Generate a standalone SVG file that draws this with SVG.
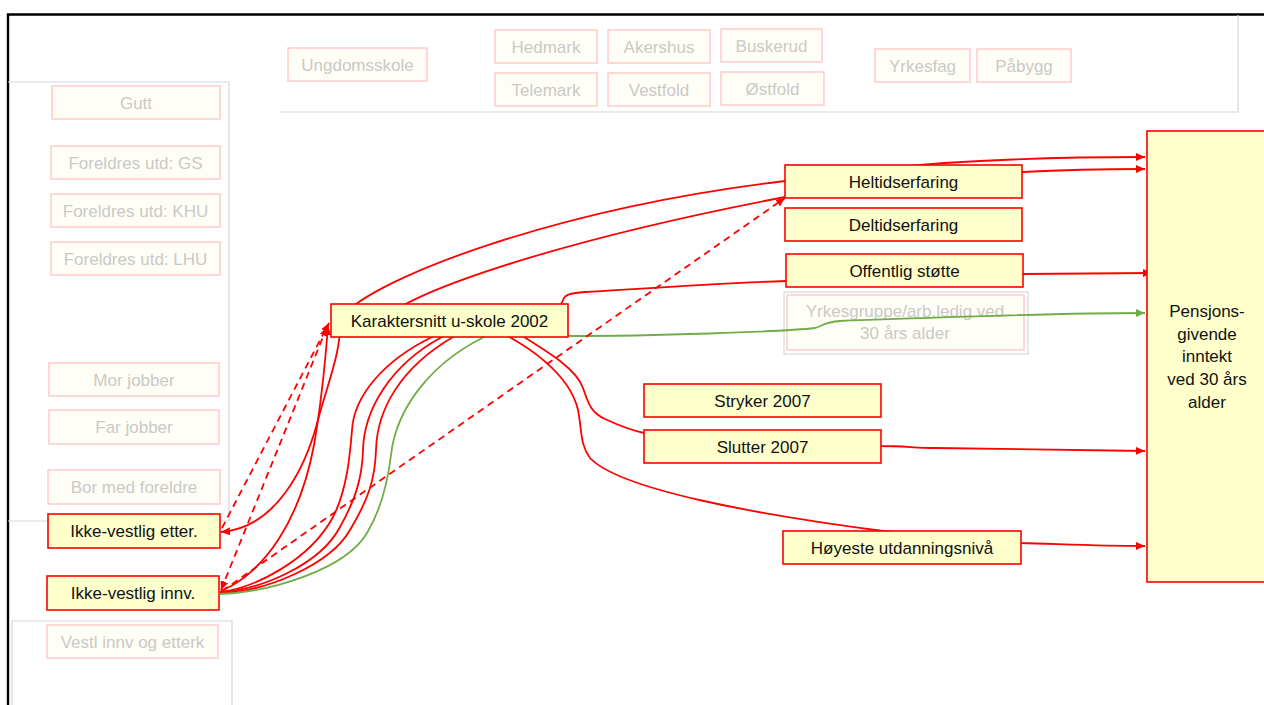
<svg xmlns="http://www.w3.org/2000/svg" width="1264" height="705" viewBox="0 0 1264 705">
<defs>
<style>
text{font-family:"Liberation Sans",Arial,sans-serif;font-size:17px;text-anchor:middle}
.panel{fill:none;stroke:#d6d6d6;stroke-width:1.2}
.fd rect{fill:#fffef6;stroke:#ffcaca;stroke-width:1.5}
.fd text{fill:#c9c9c9}
.nd rect{fill:#ffffcc;stroke:#f00;stroke-width:1.6}
.nd text{fill:#111}
.c{fill:none;stroke:#f00;stroke-width:1.8}
.d{stroke-dasharray:7 5}
.g{fill:none;stroke:#70ad47;stroke-width:1.8}
</style>
<marker id="ar" markerUnits="userSpaceOnUse" markerWidth="10" markerHeight="8" refX="9" refY="4" orient="auto-start-reverse"><path d="M0,0 L9,4 L0,8 z" fill="#f00"/></marker>
<marker id="ag" markerUnits="userSpaceOnUse" markerWidth="10" markerHeight="8" refX="9" refY="4" orient="auto"><path d="M0,0 L9,4 L0,8 z" fill="#70ad47"/></marker>
</defs>
<rect width="1264" height="705" fill="#fff"/>
<!-- frame and panels -->
<path d="M8,705 V14.5 H1264" fill="none" stroke="#000" stroke-width="2.4"/>
<path class="panel" d="M280,112 H1238 V15"/>
<path class="panel" d="M8,82 H229 V521 H8"/>
<path class="panel" d="M12,705 V621 H232 V705"/>

<!-- faded nodes -->
<g class="fd">
<g id="ungdomsskole"><rect x="288" y="48" width="139" height="33"/><text x="357.5" y="70.5">Ungdomsskole</text></g>
<g id="hedmark"><rect x="495" y="30" width="102" height="33"/><text x="546" y="52.5">Hedmark</text></g>
<g id="akershus"><rect x="608" y="30" width="102" height="33"/><text x="659" y="52.5">Akershus</text></g>
<g id="buskerud"><rect x="721" y="29" width="101" height="33"/><text x="771.5" y="51.5">Buskerud</text></g>
<g id="telemark"><rect x="495" y="73" width="102" height="33"/><text x="546" y="95.5">Telemark</text></g>
<g id="vestfold"><rect x="608" y="73" width="102" height="33"/><text x="659" y="95.5">Vestfold</text></g>
<g id="ostfold"><rect x="721" y="72" width="103" height="33"/><text x="772.5" y="94.5">Østfold</text></g>
<g id="yrkesfag"><rect x="875" y="49" width="95" height="33"/><text x="922.5" y="71.5">Yrkesfag</text></g>
<g id="pabygg"><rect x="977" y="49" width="94" height="33"/><text x="1024" y="71.5">Påbygg</text></g>
<g id="gutt"><rect x="52" y="86" width="168" height="33"/><text x="136" y="108.5">Gutt</text></g>
<g id="utd-gs"><rect x="51" y="146" width="169" height="33"/><text x="135.5" y="168.5">Foreldres utd: GS</text></g>
<g id="utd-khu"><rect x="51" y="194" width="169" height="33"/><text x="135.5" y="216.5">Foreldres utd: KHU</text></g>
<g id="utd-lhu"><rect x="51" y="242" width="169" height="33"/><text x="135.5" y="264.5">Foreldres utd: LHU</text></g>
<g id="mor-jobber"><rect x="49" y="363" width="170" height="33"/><text x="134" y="385.5">Mor jobber</text></g>
<g id="far-jobber"><rect x="49" y="410" width="170" height="34"/><text x="134" y="433">Far jobber</text></g>
<g id="bor-med-foreldre"><rect x="48" y="470" width="172" height="34"/><text x="134" y="493">Bor med foreldre</text></g>
<g id="vestl-innv"><rect x="47" y="625" width="171" height="33"/><text x="132.5" y="647.5">Vestl innv og etterk</text></g>
<g id="yrkesgruppe"><rect x="784" y="292" width="244" height="62" style="fill:none;stroke:#d9d9d9;stroke-width:1.2"/><rect x="787" y="295" width="237" height="55"/><text x="905" y="317">Yrkesgruppe/arb.ledig  ved</text><text x="905" y="339">30 års alder</text></g>
</g>

<!-- connectors -->
<g id="connectors">
<path class="c" marker-start="url(#ar)" marker-end="url(#ar)" d="M221,532 C275,528 305,470 318,420 C328,382 342,350 340,318 C376,276 560,208 785,181 C860,172 900,166 944,163 C1020,158 1080,157 1145,157"/>
<path class="c" marker-end="url(#ar)" d="M385,318 C415,290 560,240 785,197 C880,180 960,175 1022,172 C1060,170 1100,169 1145,169"/>
<path class="c" d="M220,592 C255,588 310,560 333,517 C347,490 350,455 352,430 C354,395 385,360 432,337 L440,325"/>
<path class="c" d="M220,592 C260,590 320,565 340,527 C355,500 362,480 363,450 C364,410 390,365 442,337 L450,325"/>
<path class="c" d="M220,593 C265,592 330,565 350,530 C368,500 375,480 376,450 C377,410 400,368 453,337 L460,325"/>
<path class="c" marker-end="url(#ar)" d="M221,591 C265,572 300,520 314,445 C321,405 325,365 328,326"/>
<path class="c" marker-end="url(#ar)" d="M555,318 L563,300 C565,294 572,293 585,292 C650,288 720,283 786,281 L1023,274 L1152,273"/>
<path class="c" marker-end="url(#ar)" d="M505,325 C535,345 575,365 583,388 C588,402 590,412 605,419 C620,426 630,430 644,433 L881,446 C905,446 915,448 935,448 L1145,451"/>
<path class="c" marker-end="url(#ar)" d="M485,325 C530,345 570,375 578,410 C582,430 580,445 590,458 C620,490 760,515 883,531 L1021,543 C1060,544 1100,546 1145,546"/>
<path class="g" marker-end="url(#ag)" d="M220,594 C270,592 345,570 367,533 C382,508 388,480 391,455 C396,410 430,360 495,332 L560,330 L570,336 C650,336 780,332 815,328 C822,326 825,322 840,321 C950,317 1050,313 1145,313"/>
<path class="c d" marker-end="url(#ar)" d="M222,528 L329,323"/>
<path class="c d" marker-start="url(#ar)" marker-end="url(#ar)" d="M221,590 L327,327"/>
<path class="c d" marker-end="url(#ar)" d="M222,591 L785,198"/>
</g>

<!-- active nodes -->
<g class="nd">
<g id="ikke-vestlig-etter"><rect x="48" y="514" width="172" height="34"/><text x="134" y="537">Ikke-vestlig etter.</text></g>
<g id="ikke-vestlig-innv"><rect x="47" y="576" width="172" height="34"/><text x="133" y="599">Ikke-vestlig innv.</text></g>
<g id="karaktersnitt"><rect x="331" y="304" width="237" height="33"/><text x="449.5" y="326.5">Karaktersnitt u-skole 2002</text></g>
<g id="heltidserfaring"><rect x="785" y="165" width="237" height="33"/><text x="903.5" y="187.5">Heltidserfaring</text></g>
<g id="deltidserfaring"><rect x="785" y="208" width="237" height="33"/><text x="903.5" y="230.5">Deltidserfaring</text></g>
<g id="offentlig-stotte"><rect x="786" y="254" width="237" height="33"/><text x="904.5" y="276.5">Offentlig støtte</text></g>
<g id="stryker"><rect x="644" y="384" width="237" height="33"/><text x="762.5" y="406.5">Stryker 2007</text></g>
<g id="slutter"><rect x="644" y="430" width="237" height="33"/><text x="762.5" y="452.5">Slutter 2007</text></g>
<g id="hoyeste"><rect x="783" y="531" width="238" height="33"/><text x="902" y="553.5">Høyeste utdanningsnivå</text></g>
<g id="pensjon"><rect x="1147" y="131" width="130" height="451"/>
<text x="1207" y="317">Pensjons-</text><text x="1207" y="340">givende</text><text x="1207" y="362">inntekt</text><text x="1207" y="385">ved 30 års</text><text x="1207" y="408">alder</text></g>
</g>
</svg>
